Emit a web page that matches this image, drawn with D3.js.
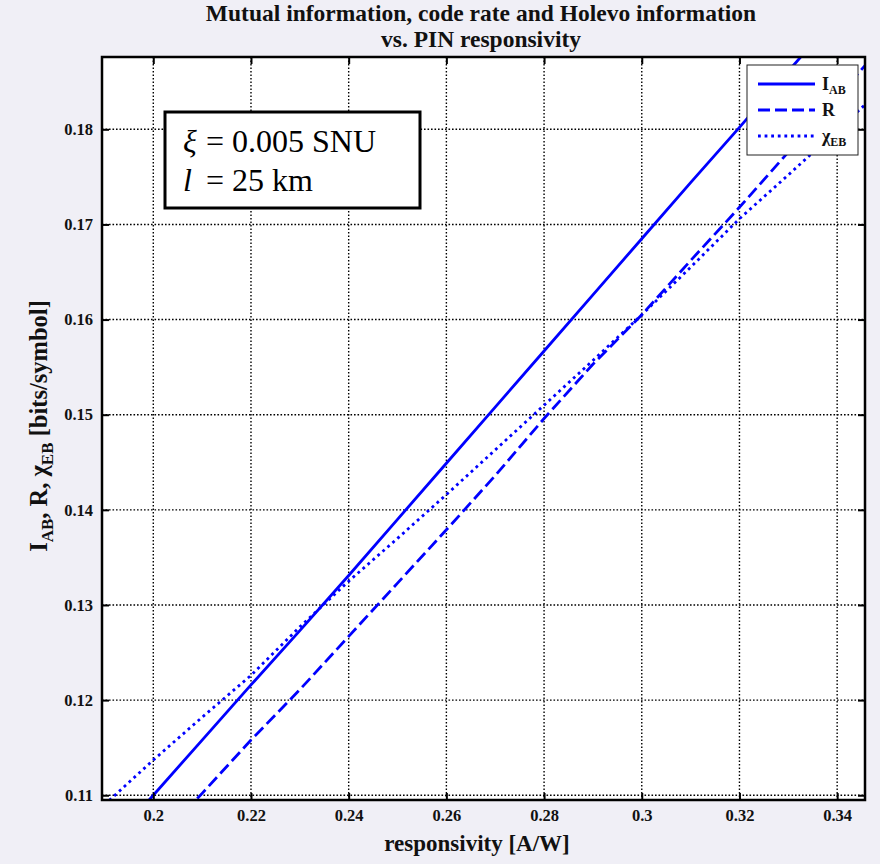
<!DOCTYPE html>
<html>
<head>
<meta charset="utf-8">
<script src="https://cdn.jsdelivr.net/npm/d3@7"></script>
<style>
  html, body { margin: 0; padding: 0; background: #f0eff6; }
  svg { display: block; }
  text { font-family: "Liberation Serif", "Times New Roman", serif; }
</style>
</head>
<body>
<script>
// ---- data ----
const responsivity = [0.19, 0.20, 0.21, 0.22, 0.23, 0.24, 0.25, 0.26, 0.27, 0.28, 0.29, 0.30, 0.31, 0.32, 0.33, 0.34, 0.35];
const I_AB  = [0.1042, 0.1100, 0.1158, 0.1216, 0.1273, 0.1331, 0.1390, 0.1449, 0.1508, 0.1567, 0.1626, 0.1685, 0.1744, 0.1802, 0.1861, 0.1920, 0.1979];
const R     = [0.0992, 0.1047, 0.1102, 0.1158, 0.1211, 0.1267, 0.1323, 0.1379, 0.1436, 0.1496, 0.1553, 0.1605, 0.1662, 0.1718, 0.1776, 0.1834, 0.1892];
const chi_EB= [0.1090, 0.1137, 0.1182, 0.1226, 0.1277, 0.1325, 0.1370, 0.1416, 0.1463, 0.1510, 0.1557, 0.1605, 0.1655, 0.1706, 0.1752, 0.1799, 0.1846];
const xTicks = [0.2, 0.22, 0.24, 0.26, 0.28, 0.3, 0.32, 0.34];
const xTickLabels = ["0.2", "0.22", "0.24", "0.26", "0.28", "0.3", "0.32", "0.34"];
const yTicks = [0.11, 0.12, 0.13, 0.14, 0.15, 0.16, 0.17, 0.18];
const yTickLabels = ["0.11", "0.12", "0.13", "0.14", "0.15", "0.16", "0.17", "0.18"];
const xDomain = [0.1895, 0.3457];
const yDomain = [0.1095, 0.1876];

const W = 880, H = 864;
const L = 102, T = 57, Rr = 865, B = 800;

const svg = d3.select("body").append("svg").attr("width", W).attr("height", H);

const x = d3.scaleLinear().domain(xDomain).range([L, Rr]);
const y = d3.scaleLinear().domain(yDomain).range([B, T]);

// plot background
svg.append("rect").attr("x", L).attr("y", T).attr("width", Rr - L).attr("height", B - T).attr("fill", "#fff");

// grid
const grid = svg.append("g");
grid.selectAll("line.gx").data(xTicks).join("line")
  .attr("x1", d => x(d)).attr("x2", d => x(d)).attr("y1", T).attr("y2", B)
  .attr("stroke", "#000").attr("stroke-width", 1.4).attr("stroke-dasharray", "1.6,1.9");
grid.selectAll("line.gy").data(yTicks).join("line")
  .attr("y1", d => y(d)).attr("y2", d => y(d)).attr("x1", L).attr("x2", Rr)
  .attr("stroke", "#000").attr("stroke-width", 1.4).attr("stroke-dasharray", "1.6,1.9");

// clip
svg.append("clipPath").attr("id", "clip").append("rect")
  .attr("x", L).attr("y", T).attr("width", Rr - L).attr("height", B - T);

const line = d3.line().x(d => x(d[0])).y(d => y(d[1]));
const series = [
  { name: "I", vals: I_AB, dash: null },
  { name: "R", vals: R, dash: "12,5" },
  { name: "chi", vals: chi_EB, dash: "2.8,3.8" }
];
const lines = svg.append("g").attr("clip-path", "url(#clip)");
series.forEach(s => {
  lines.append("path")
    .attr("d", line(responsivity.map((r, i) => [r, s.vals[i]])))
    .attr("fill", "none").attr("stroke", "#0000ff").attr("stroke-width", 2.8)
    .attr("stroke-dasharray", s.dash);
});

// axes (MATLAB style: ticks inward on all sides)
const tickLen = 7;
const axX = d3.axisBottom(x).tickValues(xTicks).tickFormat((d, i) => xTickLabels[i]).tickSizeInner(-tickLen).tickSizeOuter(0).tickPadding(9);
const axXt = d3.axisTop(x).tickValues(xTicks).tickFormat("").tickSizeInner(-tickLen).tickSizeOuter(0);
const axY = d3.axisLeft(y).tickValues(yTicks).tickFormat((d, i) => yTickLabels[i]).tickSizeInner(-tickLen).tickSizeOuter(0).tickPadding(9);
const axYr = d3.axisRight(y).tickValues(yTicks).tickFormat("").tickSizeInner(-tickLen).tickSizeOuter(0);

function styleAxis(g) {
  g.select(".domain").remove();
  g.selectAll(".tick line").attr("stroke", "#000").attr("stroke-width", 2);
  g.selectAll(".tick text").attr("fill", "#111").attr("font-size", 16.5).attr("font-weight", "bold")
    .attr("font-family", "Liberation Serif, serif");
}
svg.append("g").attr("transform", `translate(0,${B})`).call(axX).call(styleAxis);
svg.append("g").attr("transform", `translate(0,${T})`).call(axXt).call(styleAxis);
svg.append("g").attr("transform", `translate(${L},0)`).call(axY).call(styleAxis);
svg.append("g").attr("transform", `translate(${Rr},0)`).call(axYr).call(styleAxis);

svg.append("rect").attr("x", L).attr("y", T).attr("width", Rr - L).attr("height", B - T)
  .attr("fill", "none").attr("stroke", "#000").attr("stroke-width", 2.5);

// title
const title = svg.append("text").attr("text-anchor", "middle").attr("font-weight", "bold")
  .attr("font-size", 23.5).attr("fill", "#111");
title.append("tspan").attr("x", 481).attr("y", 21).text("Mutual information, code rate and Holevo information");
title.append("tspan").attr("x", 481).attr("y", 47).text("vs. PIN responsivity");

// x label
svg.append("text").attr("x", 477).attr("y", 851).attr("text-anchor", "middle")
  .attr("font-weight", "bold").attr("font-size", 23).attr("fill", "#111").text("responsivity [A/W]");

// y label
const yl = svg.append("text").attr("transform", "translate(47,426) rotate(-90)")
  .attr("text-anchor", "middle").attr("font-weight", "bold").attr("font-size", 24.5).attr("fill", "#111");
yl.append("tspan").text("I");
yl.append("tspan").attr("font-size", 17).attr("dy", 6).text("AB");
yl.append("tspan").attr("dy", -6).text(", R, ");
yl.append("tspan").text("\u03C7");
yl.append("tspan").attr("font-size", 17).attr("dy", 6).text("EB");
yl.append("tspan").attr("dy", -6).text(" [bits/symbol]");

// annotation box
svg.append("rect").attr("x", 165).attr("y", 112).attr("width", 255).attr("height", 96)
  .attr("fill", "#fff").attr("stroke", "#000").attr("stroke-width", 3);
const a1 = svg.append("text").attr("y", 152).attr("font-size", 32).attr("fill", "#000");
a1.append("tspan").attr("x", 183).attr("font-style", "italic").text("\u03BE");
a1.append("tspan").attr("x", 206).text("= 0.005 SNU");
const a2 = svg.append("text").attr("y", 191).attr("font-size", 32).attr("fill", "#000");
a2.append("tspan").attr("x", 183).attr("font-style", "italic").text("l");
a2.append("tspan").attr("x", 206).text("= 25 km");

// legend
const lg = svg.append("g");
lg.append("rect").attr("x", 747).attr("y", 65).attr("width", 111).attr("height", 90)
  .attr("fill", "#fff").attr("stroke", "#222").attr("stroke-width", 1);
const legItems = [
  { main: "I", sub: "AB", dash: null, y: 84 },
  { main: "R", sub: "", dash: "12,5", y: 110 },
  { main: "\u03C7", sub: "EB", dash: "2.8,3.8", y: 136 }
];
legItems.forEach(it => {
  lg.append("line").attr("x1", 758).attr("x2", 815).attr("y1", it.y).attr("y2", it.y)
    .attr("stroke", "#0000ff").attr("stroke-width", 2.8).attr("stroke-dasharray", it.dash);
  const t = lg.append("text").attr("x", 822).attr("y", it.y + 6).attr("font-weight", "bold")
    .attr("font-size", 18).attr("fill", "#111");
  t.append("tspan").text(it.main);
  if (it.sub) t.append("tspan").attr("font-size", 12).attr("dy", 4).text(it.sub);
});
</script>
</body>
</html>
